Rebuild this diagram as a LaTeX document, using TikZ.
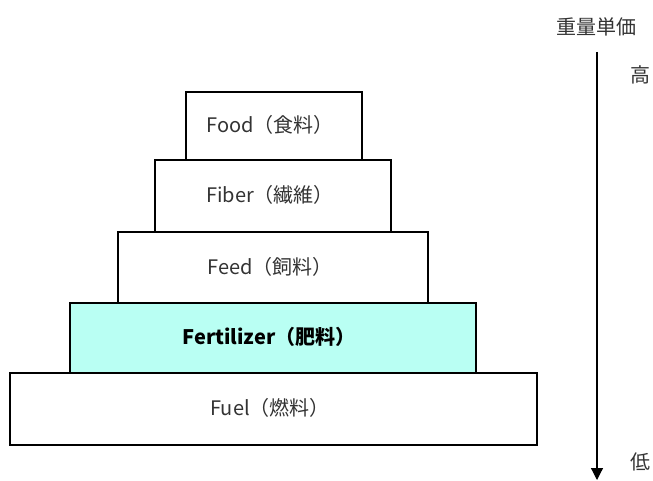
\documentclass[tikz,border=0pt]{standalone}
\usepackage{fontspec}
\setmainfont{Noto Sans CJK JP}
\usetikzlibrary{arrows.meta}
\definecolor{txt}{HTML}{333333}
\definecolor{fertfill}{HTML}{B9FFF3}
\tikzset{
  tier/.style={draw=black, line width=1.6pt, fill=white},
  lbl/.style={text=txt, font=\fontsize{15}{17}\selectfont},
  side/.style={text=txt, font=\fontsize{15}{17}\selectfont},
}
\begin{document}
\begin{tikzpicture}[x=0.75pt,y=-0.75pt]
\useasboundingbox (0,0) rectangle (653,481);
\filldraw[tier] (186,92) rectangle (362,160);
\filldraw[tier] (155,160) rectangle (391,232);
\filldraw[tier] (118,232) rectangle (428,303);
\filldraw[tier, fill=fertfill] (70,303) rectangle (476,373);
\filldraw[tier] (10,373) rectangle (537,445);
\node[lbl] (food) at (270,125) {Food（食料）};
\node[lbl] (fiber) at (270,195) {Fiber（繊維）};
\node[lbl] (feed) at (270,267) {Feed（飼料）};
\node[lbl, text=black, font=\fontsize{15}{17}\selectfont\bfseries] (fert) at (269,337) {Fertilizer（肥料）};
\node[lbl] (fuel) at (270,408) {Fuel（燃料）};
\node[side] (title) at (596,27) {重量単価};
\node[side] (hi) at (640,75) {高};
\node[side] (lo) at (640,462) {低};
\coordinate (atop) at (597,52);
\coordinate (abot) at (597,480);
\draw[line width=0.9pt, -{Triangle[width=9pt,length=9pt]}] (atop) -- (abot);
\end{tikzpicture}
\end{document}
